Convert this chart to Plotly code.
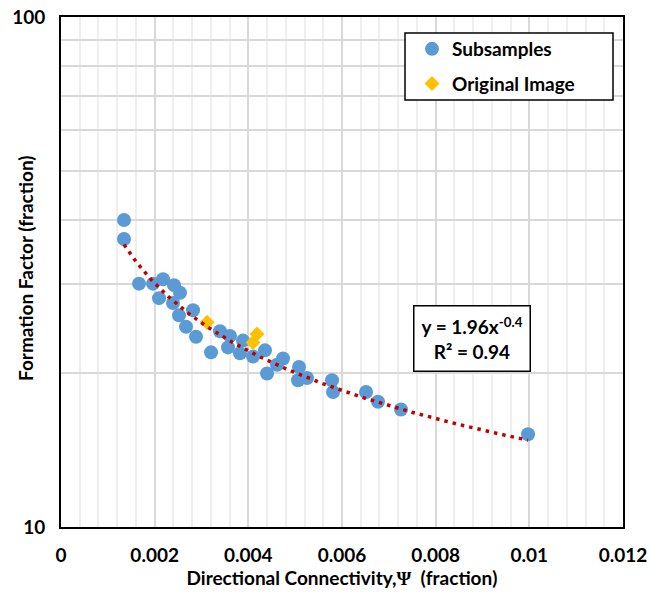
import numpy as np
import plotly.graph_objects as go

# Subsamples: directional connectivity (fraction) vs formation factor
sub_x = [0.001345, 0.001345, 0.001666, 0.001965, 0.002178, 0.002413, 0.002541,
         0.002093, 0.002392, 0.002819, 0.002520, 0.002669, 0.002883, 0.003203,
         0.003395, 0.003609, 0.003566, 0.003886, 0.003822, 0.004100, 0.004356,
         0.004741, 0.004612, 0.004399, 0.005082, 0.005061, 0.005253, 0.005787,
         0.005808, 0.006513, 0.006769, 0.007260, 0.009972]
sub_y = [40.0, 36.7, 30.0, 30.0, 30.6, 29.8, 28.8,
         28.1, 27.5, 26.6, 26.0, 24.7, 23.6, 22.0,
         24.2, 23.7, 22.5, 23.2, 21.9, 21.6, 22.2,
         21.4, 20.8, 20.0, 20.6, 19.4, 19.6, 19.4,
         18.4, 18.4, 17.6, 17.0, 15.2]

# Original image
orig_x = [0.003118, 0.004185, 0.004100]
orig_y = [25.2, 23.9, 23.0]

x_ticks = [0, 0.002, 0.004, 0.006, 0.008, 0.01, 0.012]
x_tick_labels = ["0", "0.002", "0.004", "0.006", "0.008", "0.01", "0.012"]
y_ticks = [10, 100]
y_tick_labels = ["10", "100"]
y_minor = [20, 30, 40, 50, 60, 70, 80, 90]

x_title = "Directional Connectivity,<span style=\"font-family:'Liberation Serif'\">Ψ</span>  (fraction)"
y_title = "Formation Factor (fraction)"
eq_text = "y = 1.96x<sup>-0.4</sup><br>R² = 0.94"

# Power-law trendline (least squares in log-log space, as Excel does)
lx = np.log(np.array(sub_x))
ly = np.log(np.array(sub_y))
b, ln_a = np.polyfit(lx, ly, 1)
tx = np.linspace(min(sub_x), max(sub_x), 300)
ty = np.exp(ln_a) * tx ** b

FONT = "Lato"
fig = go.Figure()
fig.add_trace(go.Scatter(
    x=sub_x, y=sub_y, mode="markers", name="Subsamples", legendgroup="a",
    marker=dict(symbol="circle", size=14, color="#5B9BD5", line=dict(width=0)),
))
fig.add_trace(go.Scatter(
    x=orig_x, y=orig_y, mode="markers", name="Original Image", legendgroup="b",
    marker=dict(symbol="diamond", size=11.5, color="#FFC000", line=dict(width=0)),
))
fig.add_trace(go.Scatter(
    x=tx, y=ty, mode="lines", showlegend=False, hoverinfo="skip",
    line=dict(color="#C00000", width=3.5, dash="3.5px,5px"),
))

L, R, T, B = 61, 27, 17, 65
pw = 650 - L - R
ph = 592 - T - B

def px2x(p):
    return (p - L) / pw

def py2y(p):
    return (592 - B - p) / ph

fig.update_layout(
    width=650, height=592,
    margin=dict(l=L, r=R, t=T, b=B, pad=0),
    paper_bgcolor="white", plot_bgcolor="white",
    font=dict(family=FONT, size=19, color="black", weight="bold"),
    showlegend=True,
    legend=dict(
        x=px2x(412), y=py2y(30), xanchor="left", yanchor="top",
        bgcolor="rgba(0,0,0,0)", borderwidth=0,
        font=dict(family=FONT, size=19, color="black", weight="bold"),
        tracegroupgap=7, itemsizing="trace",
    ),
    shapes=[dict(
        type="rect", xref="paper", yref="paper",
        x0=px2x(405), x1=px2x(613), y0=py2y(100), y1=py2y(33),
        line=dict(color="black", width=1.5), fillcolor="white", layer="above",
    )],
    annotations=[
        dict(
            text=eq_text, xref="paper", yref="paper",
            x=px2x(471.5), y=py2y(338), xanchor="center", yanchor="middle",
            showarrow=False, align="center",
            font=dict(family=FONT, size=19, color="black", weight="bold"),
            bordercolor="black", borderwidth=1.5, bgcolor="white", borderpad=7,
        ),
        dict(
            text=y_title, xref="paper", yref="paper",
            x=px2x(25), y=py2y(268), xanchor="center", yanchor="middle",
            textangle=-90, showarrow=False,
            font=dict(family=FONT, size=19, color="black", weight="bold"),
        ),
    ],
)

fig.update_xaxes(
    range=[0, 0.012], tickmode="array", tickvals=x_ticks, ticktext=x_tick_labels,
    showgrid=True, gridcolor="#D9D9D9", gridwidth=1.5,
    minor=dict(dtick=0.0004, showgrid=True, gridcolor="#EFEFEF", gridwidth=1.5, ticks=""),
    showline=True, linecolor="black", linewidth=2, mirror=True,
    ticks="", zeroline=False, ticklabelstandoff=10, automargin=False,
    tickfont=dict(family=FONT, size=19, weight="bold"),
    title=dict(text=x_title, standoff=4, font=dict(family=FONT, size=19, weight="bold")),
)
fig.update_yaxes(
    type="log", range=[1, 2], tickmode="array", tickvals=y_ticks, ticktext=y_tick_labels,
    showgrid=True, gridcolor="#D9D9D9", gridwidth=1.5,
    minor=dict(tickmode="array", tickvals=y_minor, showgrid=True, gridcolor="#D9D9D9", gridwidth=2, ticks=""),
    showline=True, linecolor="black", linewidth=2, mirror=True,
    ticks="", zeroline=False, ticklabelstandoff=10, automargin=False,
    tickfont=dict(family=FONT, size=19, weight="bold"),
)

fig.write_html("out.html")
